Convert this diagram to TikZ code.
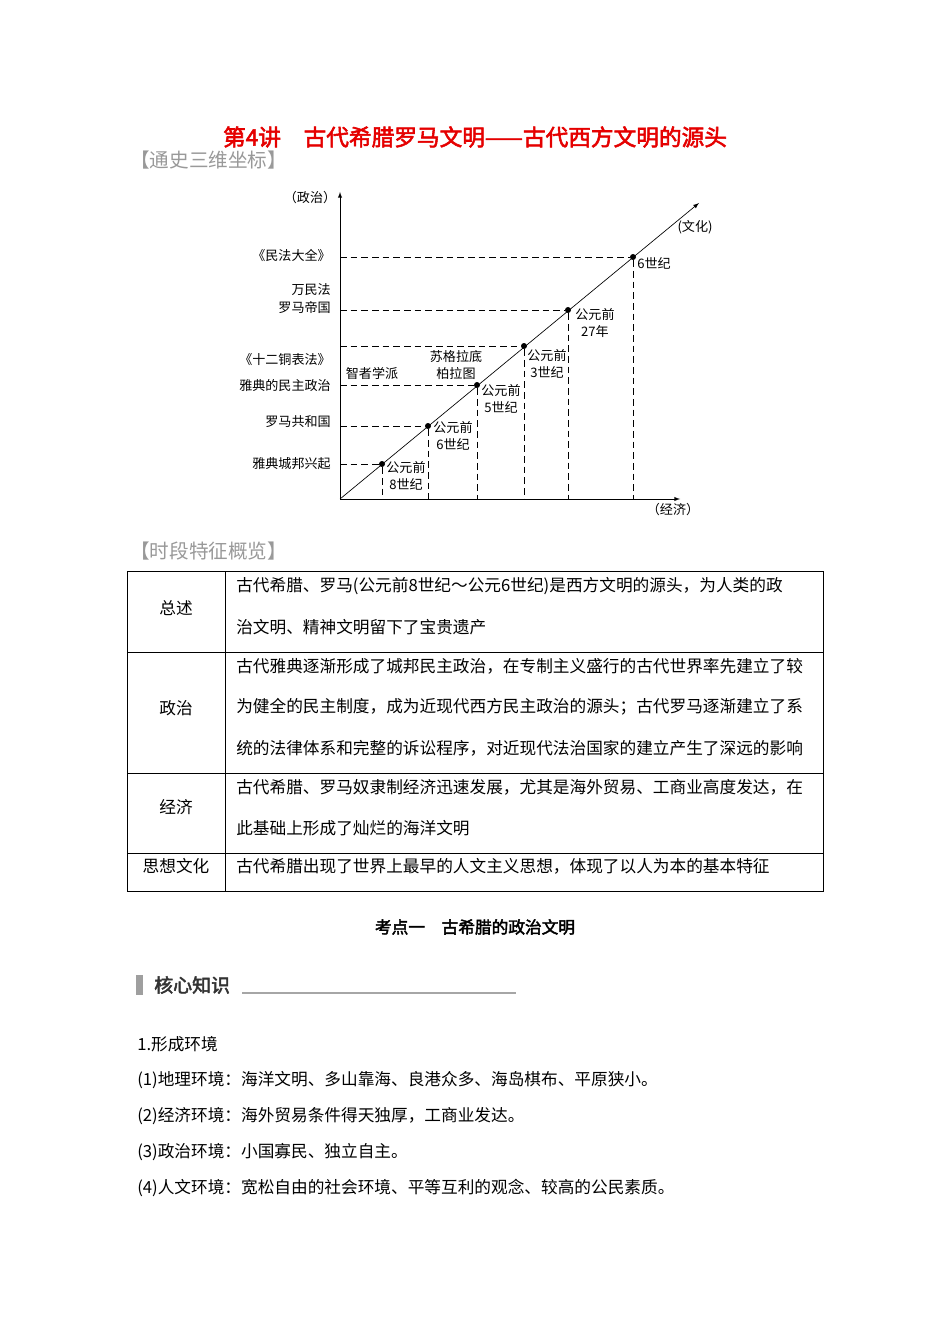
\documentclass[tikz,border=0pt]{standalone}
\usepackage{fontspec}
\setmainfont{Liberation Serif}
\newfontfamily\cjk[AutoFakeBold=2.5]{Noto Sans CJK SC}
\begin{document}
\begin{tikzpicture}[x=0.75pt,y=-0.75pt,
  lbl/.style={font=\cjk\fontsize{9.8}{11}\selectfont,inner sep=0pt},
  lbll/.style={lbl,anchor=east},
  pt/.style={circle,fill=black,inner sep=0pt,minimum size=4.5pt},
  dsh/.style={dashed,dash pattern=on 5pt off 3pt,line width=0.5pt},
  body/.style={font=\cjk\fontsize{12.5}{14}\selectfont,anchor=west,inner sep=0pt},
  cell/.style={font=\cjk\fontsize{12.5}{14}\selectfont,inner sep=0pt},
  head/.style={font=\cjk\fontsize{14.7}{16}\selectfont,text=gray!80,anchor=west,inner sep=0pt}]
\useasboundingbox[fill=white] (0,0) rectangle (950,1344);
% title
\node[font=\cjk\bfseries\fontsize{17}{20}\selectfont,text=red!90!black,inner sep=0pt] (title) at (475,137) {第4讲\quad 古代希腊罗马文明——古代西方文明的源头};
\node[head] (h1) at (130,160) {【通史三维坐标】};
% axes
\coordinate (O) at (340,499);
\coordinate (Ytop) at (340,192);
\coordinate (Xend) at (680,499);
\coordinate (Dend) at (699,203);
\draw[line width=0.5pt,-latex] (O) -- (Ytop);
\draw[line width=0.5pt,-latex] (O) -- (Xend);
\draw[line width=0.5pt,-latex] (O) -- (Dend);
\node[lbl] (pol) at (310,198) {（政治）};
\node[lbl] (cul) at (695,227) {(文化)};
\node[lbl] (eco) at (673,510) {（经济）};
% points
\foreach \n/\x/\y in {p1/382/464,p2/428/426,p3/477/385,p4/524/346,p5/568/310,p6/633/257}{
  \node[pt] (\n) at (\x,\y) {};
  \coordinate (\n h) at (340,\y);
  \coordinate (\n v) at (\x,499);
  \draw[dsh] (\n h) -- (\n);
  \draw[dsh] (\n) -- (\n v);
}
% left labels
\node[lbll] (l1) at (331,256) {《民法大全》};
\node[lbll] (l2) at (331,290) {万民法};
\node[lbll] (l3) at (331,308) {罗马帝国};
\node[lbll] (l4) at (331,360) {《十二铜表法》};
\node[lbll] (l5) at (331,386) {雅典的民主政治};
\node[lbll] (l6) at (331,422) {罗马共和国};
\node[lbll] (l7) at (331,464) {雅典城邦兴起};
\node[lbl] (c1) at (372,374) {智者学派};
\node[lbl,align=center] (c2) at (456,365) {苏格拉底\\[2pt]柏拉图};
\node[lbl,align=center] (t1) at (406,476) {公元前\\[2pt]8世纪};
\node[lbl,align=center] (t2) at (453,436) {公元前\\[2pt]6世纪};
\node[lbl,align=center] (t3) at (501,399) {公元前\\[2pt]5世纪};
\node[lbl,align=center] (t4) at (547,364) {公元前\\[2pt]3世纪};
\node[lbl,align=center] (t5) at (595,323) {公元前\\[2pt]27年};
\node[lbl] (t6) at (654,263) {6世纪};
% table
\node[head] (h2) at (130,551) {【时段特征概览】};
\draw[line width=0.6pt] (127,571) rectangle (823,891);
\draw[line width=0.6pt] (225,571) -- (225,891);
\foreach \y in {652,773,853}{\draw[line width=0.6pt] (127,\y) -- (823,\y);}
\node[cell] (r1) at (176,608) {总述};
\node[cell] (r2) at (176,708) {政治};
\node[cell] (r3) at (176,807) {经济};
\node[cell] (r4) at (176,866) {思想文化};
\node[body] (a1) at (236,586) {古代希腊、罗马(公元前8世纪～公元6世纪)是西方文明的源头，为人类的政};
\node[body] (a2) at (236,627) {治文明、精神文明留下了宝贵遗产};
\node[body] (b1) at (236,666) {古代雅典逐渐形成了城邦民主政治，在专制主义盛行的古代世界率先建立了较};
\node[body] (b2) at (236,707) {为健全的民主制度，成为近现代西方民主政治的源头；古代罗马逐渐建立了系};
\node[body] (b3) at (236,748) {统的法律体系和完整的诉讼程序，对近现代法治国家的建立产生了深远的影响};
\node[body] (c3) at (236,787) {古代希腊、罗马奴隶制经济迅速发展，尤其是海外贸易、工商业高度发达，在};
\node[body] (c4) at (236,828) {此基础上形成了灿烂的海洋文明};
\node[body] (d1) at (236,866) {古代希腊出现了世界上最早的人文主义思想，体现了以人为本的基本特征};
% section
\node[font=\cjk\bfseries\fontsize{12.5}{14}\selectfont,inner sep=0pt] (kd) at (475,927) {考点一\quad 古希腊的政治文明};
\fill[gray!75] (136,975) rectangle (143,995);
\node[font=\cjk\bfseries\fontsize{14.2}{16}\selectfont,text=black!80,anchor=west,inner sep=0pt] (hx) at (154,985) {核心知识};
\draw[gray!70,line width=0.8pt] (242,993) -- (516,993);
\node[body] (s1) at (137,1044) {1.形成环境};
\node[body] (s2) at (137,1080) {(1)地理环境：海洋文明、多山靠海、良港众多、海岛棋布、平原狭小。};
\node[body] (s3) at (137,1116) {(2)经济环境：海外贸易条件得天独厚，工商业发达。};
\node[body] (s4) at (137,1152) {(3)政治环境：小国寡民、独立自主。};
\node[body] (s5) at (137,1188) {(4)人文环境：宽松自由的社会环境、平等互利的观念、较高的公民素质。};
\end{tikzpicture}
\end{document}
